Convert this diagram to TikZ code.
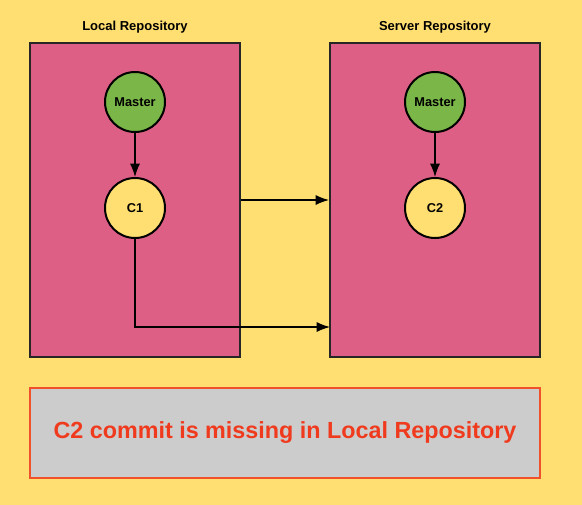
\documentclass[tikz,border=0pt]{standalone}
\usepackage{fontspec}
\setmainfont{Liberation Sans}
\usepackage{tikz}
\usetikzlibrary{arrows.meta}
\definecolor{bgyellow}{HTML}{FFDF71}
\definecolor{repopink}{HTML}{DD5F85}
\definecolor{mastergreen}{HTML}{7AB648}
\definecolor{notegray}{HTML}{CCCCCC}
\definecolor{notered}{HTML}{F0502C}
\definecolor{textred}{HTML}{F03A1E}
\tikzset{
	repobox/.style={draw=black!85, line width=1.5pt, fill=repopink,
		minimum width=157.5pt, minimum height=235.5pt, inner sep=0pt},
	branch/.style={circle, draw=black, line width=1.5pt, fill=mastergreen,
		minimum size=45pt, inner sep=0pt, font=\bfseries\fontsize{9.6}{10}\selectfont},
	commit/.style={branch, fill=bgyellow},
	link/.style={draw=black, line width=0.9pt, -{Latex[length=10pt,width=7.5pt]}},
}

\begin{document}
\begin{tikzpicture}[x=0.75pt, y=-0.75pt]
	
	% background
	\useasboundingbox (0,0) rectangle (582,504);
	\fill[color=bgyellow] (-1,-1) rectangle (583,505);
	
	% Local repository
	\node[repobox] (localbox) at (135,200) {};
	\node[font=\bfseries\fontsize{9.75}{11}\selectfont]
		(localtitle) at (135,27.5) {Local Repository};
	\node[branch] (localmaster) at (135,102) {Master};
	\node[commit] (c1) at (135,208) {C1};
	
	% Server repository
	\node[repobox] (serverbox) at (435,200) {};
	\node[font=\bfseries\fontsize{9.75}{11}\selectfont]
		(servertitle) at (435,27.5) {Server Repository};
	\node[branch] (servermaster) at (435,102) {Master};
	\node[commit] (c2) at (435,208) {C2};
	
	\coordinate (fetchend) at (330,327);
	
	\draw[link] (localmaster) -- (c1);
	\draw[link] (servermaster) -- (c2);
	\draw[link] (localbox.east) -- (serverbox.west);
	\draw[link] (c1.south) |- (fetchend);
	
	% note
	\node[
		draw=notered,
		line width=1.5pt,
		fill=notegray,
		minimum width=382.5pt,
		minimum height=67.5pt,
		text=textred,
		font=\bfseries\fontsize{17.5}{20}\selectfont
	]
		(note) at (285,432.5) {C2 commit is missing in Local Repository};
\end{tikzpicture}
\end{document}
